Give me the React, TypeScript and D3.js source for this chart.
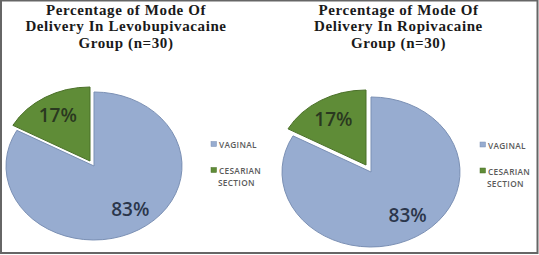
import React from "react";
import * as d3 from "d3";

const categories = ["VAGINAL", "CESARIAN SECTION"];
const levoValues = [83, 17];
const ropiValues = [83, 17];
const levoTitle = ["Percentage of Mode Of", "Delivery In Levobupivacaine", "Group (n=30)"];
const ropiTitle = ["Percentage of Mode Of", "Delivery In Ropivacaine", "Group (n=30)"];
const colors = ["#97acd0", "#5f8c37"];
const strokes = ["#7b90b4", "#4b7029"];

type PanelProps = {
  x: number;
  title: string[];
  values: number[];
  titleX: number;
  cx: number;
  cy: number;
  rx: number;
  ry: number;
  explode: [number, number];
  legendX: number;
  legendY: number;
};

function Panel({ x, title, values, titleX, cx, cy, rx, ry, explode, legendX, legendY }: PanelProps) {
  const pie = d3.pie<number>().sort(null).startAngle(0).endAngle(2 * Math.PI)(values);
  const arc = d3.arc<d3.PieArcDatum<number>>().innerRadius(0).outerRadius(rx);
  const labelArc = d3.arc<d3.PieArcDatum<number>>().innerRadius(rx * 0.72).outerRadius(rx * 0.72);
  const sy = ry / rx;
  const total = d3.sum(values);
  return (
    <g transform={`translate(${x},0)`}>
      {title.map((t, i) => (
        <text
          key={"t" + i}
          x={titleX}
          y={14.5 + i * 16.8}
          textAnchor="middle"
          fontFamily="'Liberation Serif', 'Times New Roman', serif"
          fontWeight="bold"
          fontSize={15}
          letterSpacing={0.6}
          fill="#1a1a1a"
        >
          {t}
        </text>
      ))}
      {pie.map((d, i) => {
        const off = i === 1 ? explode : [0, 0];
        return (
          <g key={i} transform={`translate(${cx + off[0]},${cy + off[1]}) scale(1,${sy})`}>
            <path
              d={arc(d) || ""}
              fill={colors[i]}
              stroke={strokes[i]}
              strokeWidth={1}
              vectorEffect="non-scaling-stroke"
            />
          </g>
        );
      })}
      {pie.map((d, i) => {
        const off = i === 1 ? explode : [0, 0];
        const [lx, ly] = labelArc.centroid(d);
        const pct = Math.round((d.data / total) * 100);
        return (
          <text
            key={"l" + i}
            x={cx + off[0] + lx + (i === 0 ? 4 : 0)}
            y={cy + off[1] + ly * sy + (i === 0 ? -3 : 0)}
            textAnchor="middle"
            dominantBaseline="central"
            fontFamily="'Open Sans', sans-serif"
            fontWeight={600}
            fontSize={19}
            fill={i === 0 ? "#2b364b" : "#2a3820"}
          >
            {pct}%
          </text>
        );
      })}
      {categories.map((c, i) => {
        const words = c.split(" ");
        const y0 = legendY + i * 26;
        return (
          <g key={"lg" + i}>
            <rect x={legendX} y={y0 - 2.5} width={5.5} height={5} fill={colors[i]} stroke={strokes[i]} strokeWidth={0.5} />
            <text
              x={legendX + 8}
              y={y0}
              dominantBaseline="central"
              fontFamily="'Open Sans', sans-serif"
              fontWeight={600}
              fontSize={8.3}
              letterSpacing={0.3}
              fill="#5a5a5a"
            >
              {words.map((w, j) => (
                <tspan key={j} x={legendX + 8 - (j > 0 ? 1 : 0)} dy={j === 0 ? 0 : 12}>
                  {w}
                </tspan>
              ))}
            </text>
          </g>
        );
      })}
    </g>
  );
}

export default function App() {
  return (
    <svg width={539} height={255} style={{ position: "absolute", left: 0, top: 0, background: "#fff" }}>
      <rect x={1} y={0.5} width={536.5} height={252.5} fill="#fff" stroke="#666" strokeWidth={2} />
      <Panel
        x={0}
        title={levoTitle}
        values={levoValues}
        titleX={126}
        cx={94}
        cy={166}
        rx={88}
        ry={74}
        explode={[-4, -5]}
        legendX={211}
        legendY={144}
      />
      <Panel
        x={270}
        title={ropiTitle}
        values={ropiValues}
        titleX={128.5}
        cx={101}
        cy={172}
        rx={89}
        ry={75}
        explode={[-5, -7]}
        legendX={210}
        legendY={144.5}
      />
    </svg>
  );
}
